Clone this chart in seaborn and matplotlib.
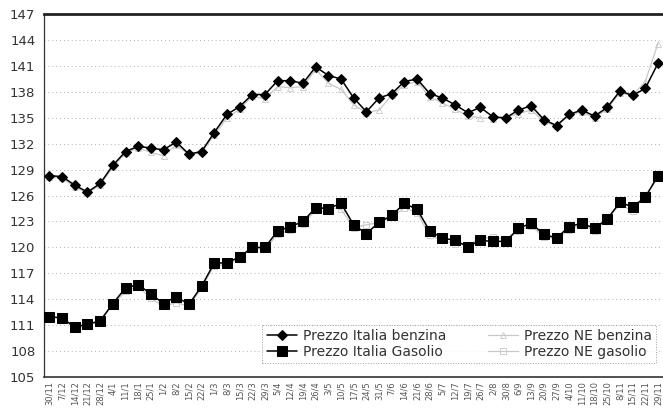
import seaborn as sns
import pandas as pd
import matplotlib.pyplot as plt

dates = ['30/11', '7/12', '14/12', '21/12', '28/12', '4/1', '11/1', '18/1', '25/1',
         '1/2', '8/2', '15/2', '22/2', '1/3', '8/3', '15/3', '22/3', '29/3', '5/4',
         '12/4', '19/4', '26/4', '3/5', '10/5', '17/5', '24/5', '31/5', '7/6', '14/6',
         '21/6', '28/6', '5/7', '12/7', '19/7', '26/7', '2/8', '30/8', '6/9', '13/9',
         '20/9', '27/9', '4/10', '11/10', '18/10', '25/10', '8/11', '15/11', '22/11', '29/11']

italia_benzina = [128.3, 128.2, 127.2, 126.4, 127.4, 129.5, 131.1, 131.7, 131.5, 131.3,
                  132.2, 130.8, 131.1, 133.3, 135.4, 136.3, 137.7, 137.7, 139.3, 139.3,
                  139.0, 140.9, 139.9, 139.5, 137.3, 135.7, 137.3, 137.8, 139.2, 139.5,
                  137.8, 137.3, 136.5, 135.6, 136.2, 135.1, 135.0, 135.9, 136.4, 134.8,
                  134.1, 135.4, 135.9, 135.2, 136.2, 138.1, 137.6, 138.4, 141.3]
italia_gasolio = [112.0, 111.8, 110.8, 111.1, 111.5, 113.5, 115.3, 115.7, 114.6, 113.5,
                  114.3, 113.4, 115.5, 118.2, 118.2, 118.9, 120.0, 120.0, 121.9, 122.4,
                  123.0, 124.6, 124.5, 125.1, 122.6, 121.6, 122.9, 123.7, 125.1, 124.4,
                  121.9, 121.1, 120.8, 120.1, 120.8, 120.7, 120.7, 122.2, 122.8, 121.5,
                  121.1, 122.4, 122.8, 122.2, 123.3, 125.2, 124.7, 125.8, 128.3]
ne_benzina = [128.1, 128.0, 127.0, 126.3, 127.2, 129.3, 130.9, 131.5, 131.0, 130.6,
              131.9, 130.7, 131.0, 133.0, 135.0, 136.0, 137.5, 137.2, 138.6, 138.5,
              138.6, 140.6, 139.0, 138.3, 136.5, 135.6, 135.9, 137.6, 138.8, 139.2,
              137.4, 136.7, 136.0, 135.2, 135.0, 134.9, 135.0, 135.5, 135.9, 134.6,
              134.0, 135.3, 135.7, 135.0, 136.0, 137.9, 137.6, 139.2, 143.6]
ne_gasolio = [111.9, 111.9, 110.5, 111.0, 111.4, 113.4, 114.9, 115.5, 114.1, 113.2,
              113.6, 113.2, 115.3, 117.9, 118.0, 118.8, 119.9, 119.8, 121.5, 122.0,
              122.7, 124.3, 124.7, 124.4, 122.3, 122.6, 122.9, 123.5, 124.6, 124.0,
              121.4, 120.8, 120.4, 120.3, 121.0, 121.2, 120.9, 121.9, 122.5, 121.2,
              121.0, 122.0, 122.7, 121.9, 123.2, 125.0, 124.2, 126.0, 128.0]

df = pd.DataFrame({'x': range(len(dates)), 'ib': italia_benzina, 'ig': italia_gasolio,
                   'nb': ne_benzina, 'ng': ne_gasolio})

sns.set_style('white')
fig = plt.figure(figsize=(6.63, 4.17), dpi=100)
ax = fig.add_axes([0.066, 0.096, 0.934, 0.870])

# NE series are very faint in the original
sns.lineplot(data=df, x='x', y='nb', ax=ax, color='#c8c8c8', lw=0.9, marker='^',
             markersize=4, markeredgewidth=0.6, markerfacecolor='none',
             markeredgecolor='#c8c8c8', label='Prezzo NE benzina', zorder=2)
sns.lineplot(data=df, x='x', y='ng', ax=ax, color='#c8c8c8', lw=0.9, marker='s',
             markersize=4, markeredgewidth=0.6, markerfacecolor='none',
             markeredgecolor='#c8c8c8', label='Prezzo NE gasolio', zorder=2)
sns.lineplot(data=df, x='x', y='ib', ax=ax, color='black', lw=1.1, marker='D',
             markersize=5.5, markeredgecolor='black', label='Prezzo Italia benzina', zorder=3)
sns.lineplot(data=df, x='x', y='ig', ax=ax, color='black', lw=1.1, marker='s',
             markersize=6.5, markeredgecolor='black', label='Prezzo Italia Gasolio', zorder=3)

ax.set_ylim(105, 147)
ax.set_yticks(range(105, 148, 3))
ax.set_xlim(-0.45, 48.4)
ax.set_xticks(range(len(dates)))
ax.set_xticklabels(dates, rotation=90, fontsize=6, color='#555555')
ax.tick_params(axis='y', labelsize=9.5, colors='#333333', length=2, pad=4)
ax.tick_params(axis='x', length=0, pad=3)
ax.set_xlabel('')
ax.set_ylabel('')

ax.grid(axis='y', linestyle=(0, (1, 3)), color='#b0b0b0', lw=0.7)
ax.spines['top'].set_linewidth(2)
ax.spines['top'].set_color('#222222')
ax.spines['left'].set_linewidth(0.9)
ax.spines['left'].set_color('#333333')
ax.spines['bottom'].set_linewidth(1.2)
ax.spines['bottom'].set_linestyle((0, (2, 1)))
ax.spines['bottom'].set_color('#333333')
ax.spines['right'].set_visible(False)

handles, labels = ax.get_legend_handles_labels()
order = [2, 3, 0, 1]
leg = ax.legend([handles[i] for i in order], [labels[i] for i in order], ncol=2,
                loc='lower right', bbox_to_anchor=(1.0, 0.02), fontsize=10,
                frameon=True, fancybox=False, borderpad=0.3, labelspacing=0.1,
                handlelength=2.2, handletextpad=0.4, columnspacing=3.0)
leg.get_frame().set_linestyle(':')
leg.get_frame().set_edgecolor('#888888')
leg.get_frame().set_linewidth(0.7)
for t in leg.get_texts():
    t.set_color('#333333')

fig.savefig('out.png', dpi=100)
